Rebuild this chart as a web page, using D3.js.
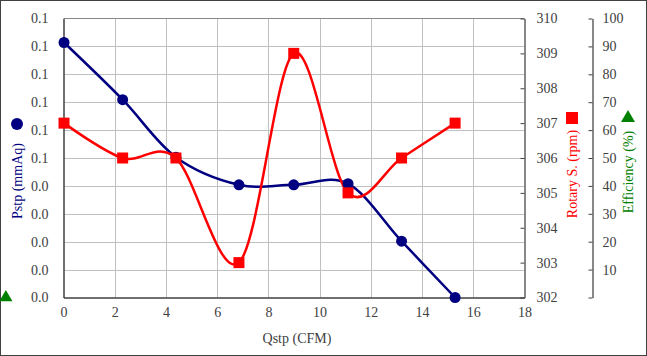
<!DOCTYPE html>
<html><head><meta charset="utf-8">
<script src="https://cdn.jsdelivr.net/npm/d3@7"></script>
<style>
html,body{margin:0;padding:0;background:#fff;}
svg{display:block;}
svg text{font-family:"Liberation Serif","Times New Roman",serif !important;}
</style></head>
<body>
<svg id="c" width="647" height="356"></svg>
<script>
// ---- data ----
const qstp = [0.02, 2.31, 4.39, 6.85, 8.99, 11.11, 13.2, 15.29];
const pstp = [0.0914, 0.0709, 0.0503, 0.0404, 0.0404, 0.0408, 0.0202, 0.0];
const rotary = [307, 306, 306, 303, 309, 305, 306, 307];
const effX = [-2.25];
const effY = [0];
const xTicks = [0, 2, 4, 6, 8, 10, 12, 14, 16, 18];
const pTicks = [0, 0.01, 0.02, 0.03, 0.04, 0.05, 0.06, 0.07, 0.08, 0.09, 0.1];
const rTicks = [302, 303, 304, 305, 306, 307, 308, 309, 310];
const eTicks = [0, 10, 20, 30, 40, 50, 60, 70, 80, 90, 100];

const svg = d3.select("#c");
const L = 63.5, R = 524.5, T = 18.5, B = 297.5;
const x = d3.scaleLinear().domain([0, 18]).range([L, R]);
const yP = d3.scaleLinear().domain([0, 0.1]).range([B, T]);
const yR = d3.scaleLinear().domain([302, 310]).range([B, T]);
const yE = d3.scaleLinear().domain([0, 100]).range([B, T]);

// outer border
svg.append("rect").attr("x", 0.5).attr("y", 0.5).attr("width", 646).attr("height", 355)
  .attr("fill", "none").attr("stroke", "#404040").attr("stroke-width", 1);

// grid
svg.append("g").selectAll("line").data(pTicks.slice(1, -1)).join("line")
  .attr("x1", L).attr("x2", R).attr("y1", d => Math.round(yP(d)) + 0.5).attr("y2", d => Math.round(yP(d)) + 0.5)
  .attr("stroke", "#c0c0c0");
svg.append("g").selectAll("line").data(xTicks.slice(1, -1)).join("line")
  .attr("y1", T).attr("y2", B).attr("x1", d => Math.round(x(d)) + 0.5).attr("x2", d => Math.round(x(d)) + 0.5)
  .attr("stroke", "#c0c0c0");
// top border line
svg.append("line").attr("x1", L).attr("x2", R).attr("y1", T).attr("y2", T).attr("stroke", "#888");

function styleText(sel) {
  sel.attr("font-size", 14).attr("fill", "#404040").style("font-family", "'Liberation Serif', serif");
}

// left axis
const axL = svg.append("g").attr("transform", `translate(${L},0)`)
  .call(d3.axisLeft(yP).tickValues(pTicks).tickSize(0).tickPadding(15).tickFormat(d3.format(".1f")));
axL.attr("font-family", null);
axL.select(".domain").attr("stroke", "#404040").attr("stroke-width", 1.5);
styleText(axL.selectAll("text"));

// bottom axis
const axB = svg.append("g").attr("transform", `translate(0,${B})`)
  .call(d3.axisBottom(x).tickValues(xTicks).tickSize(0).tickPadding(10).tickFormat(d3.format("d")));
axB.attr("font-family", null);
axB.select(".domain").attr("stroke", "#404040").attr("stroke-width", 1.5);
styleText(axB.selectAll("text"));

// right axis (rotary)
const axR = svg.append("g").attr("transform", `translate(${R},0)`)
  .call(d3.axisLeft(yR).tickValues(rTicks).tickSize(4).tickSizeOuter(0).tickFormat(d3.format("d")));
axR.attr("font-family", null);
axR.select(".domain").attr("stroke", "#606060").attr("stroke-width", 1.5);
axR.selectAll(".tick line").attr("stroke", "#404040");
styleText(axR.selectAll("text").attr("x", 12).attr("text-anchor", "start"));

// efficiency axis
const EX = 592.5;
const axE = svg.append("g").attr("transform", `translate(${EX},0)`)
  .call(d3.axisLeft(yE).tickValues(eTicks).tickSize(4).tickSizeOuter(0).tickFormat(d => d === 0 ? "" : d));
axE.attr("font-family", null);
axE.select(".domain").attr("stroke", "#606060").attr("stroke-width", 1.5);
axE.selectAll(".tick line").attr("stroke", "#404040");
styleText(axE.selectAll("text").attr("x", 10).attr("text-anchor", "start"));

// lines
const curve = d3.curveCardinal.tension(0);
const pData = qstp.map((q, i) => [q, pstp[i]]);
const rData = qstp.map((q, i) => [q, rotary[i]]);
svg.append("path").datum(pData)
  .attr("d", d3.line().x(d => x(d[0])).y(d => yP(d[1])).curve(curve))
  .attr("fill", "none").attr("stroke", "#000080").attr("stroke-width", 2.5);
svg.append("path").datum(rData)
  .attr("d", d3.line().x(d => x(d[0])).y(d => yR(d[1])).curve(curve))
  .attr("fill", "none").attr("stroke", "#ff0000").attr("stroke-width", 2.5);

svg.append("g").selectAll("circle").data(pData).join("circle")
  .attr("cx", d => x(d[0])).attr("cy", d => yP(d[1])).attr("r", 5.5).attr("fill", "#000080");
svg.append("g").selectAll("rect").data(rData).join("rect")
  .attr("x", d => x(d[0]) - 5.5).attr("y", d => yR(d[1]) - 5.5).attr("width", 11).attr("height", 11).attr("fill", "#ff0000");

const tri = d3.symbol().type(d3.symbolTriangle).size(75);
svg.append("g").selectAll("path").data(effX.map((e, i) => [e, effY[i]])).join("path")
  .attr("d", tri).attr("transform", d => `translate(${x(d[0])},${yE(d[1])})`).attr("fill", "#008000");

// titles
const t1 = svg.append("text").attr("x", 297).attr("y", 343).attr("text-anchor", "middle").text("Qstp (CFM)");
styleText(t1);

const t2 = svg.append("text").attr("transform", "translate(22,181) rotate(-90)").attr("text-anchor", "middle").text("Pstp (mmAq)");
styleText(t2); t2.attr("fill", "#000080");
svg.append("circle").attr("cx", 17).attr("cy", 124).attr("r", 6).attr("fill", "#000080");

const t3 = svg.append("text").attr("transform", "translate(577,174) rotate(-90)").attr("text-anchor", "middle").text("Rotary S. (rpm)");
styleText(t3); t3.attr("fill", "#ff0000");
svg.append("rect").attr("x", 566).attr("y", 112).attr("width", 12).attr("height", 12).attr("fill", "#ff0000");

const t4 = svg.append("text").attr("transform", "translate(633,172) rotate(-90)").attr("text-anchor", "middle").text("Efficiency (%)");
styleText(t4); t4.attr("fill", "#008000");
svg.append("path").attr("d", d3.symbol().type(d3.symbolTriangle).size(85))
  .attr("transform", "translate(628,118)").attr("fill", "#008000");
</script>
</body></html>
